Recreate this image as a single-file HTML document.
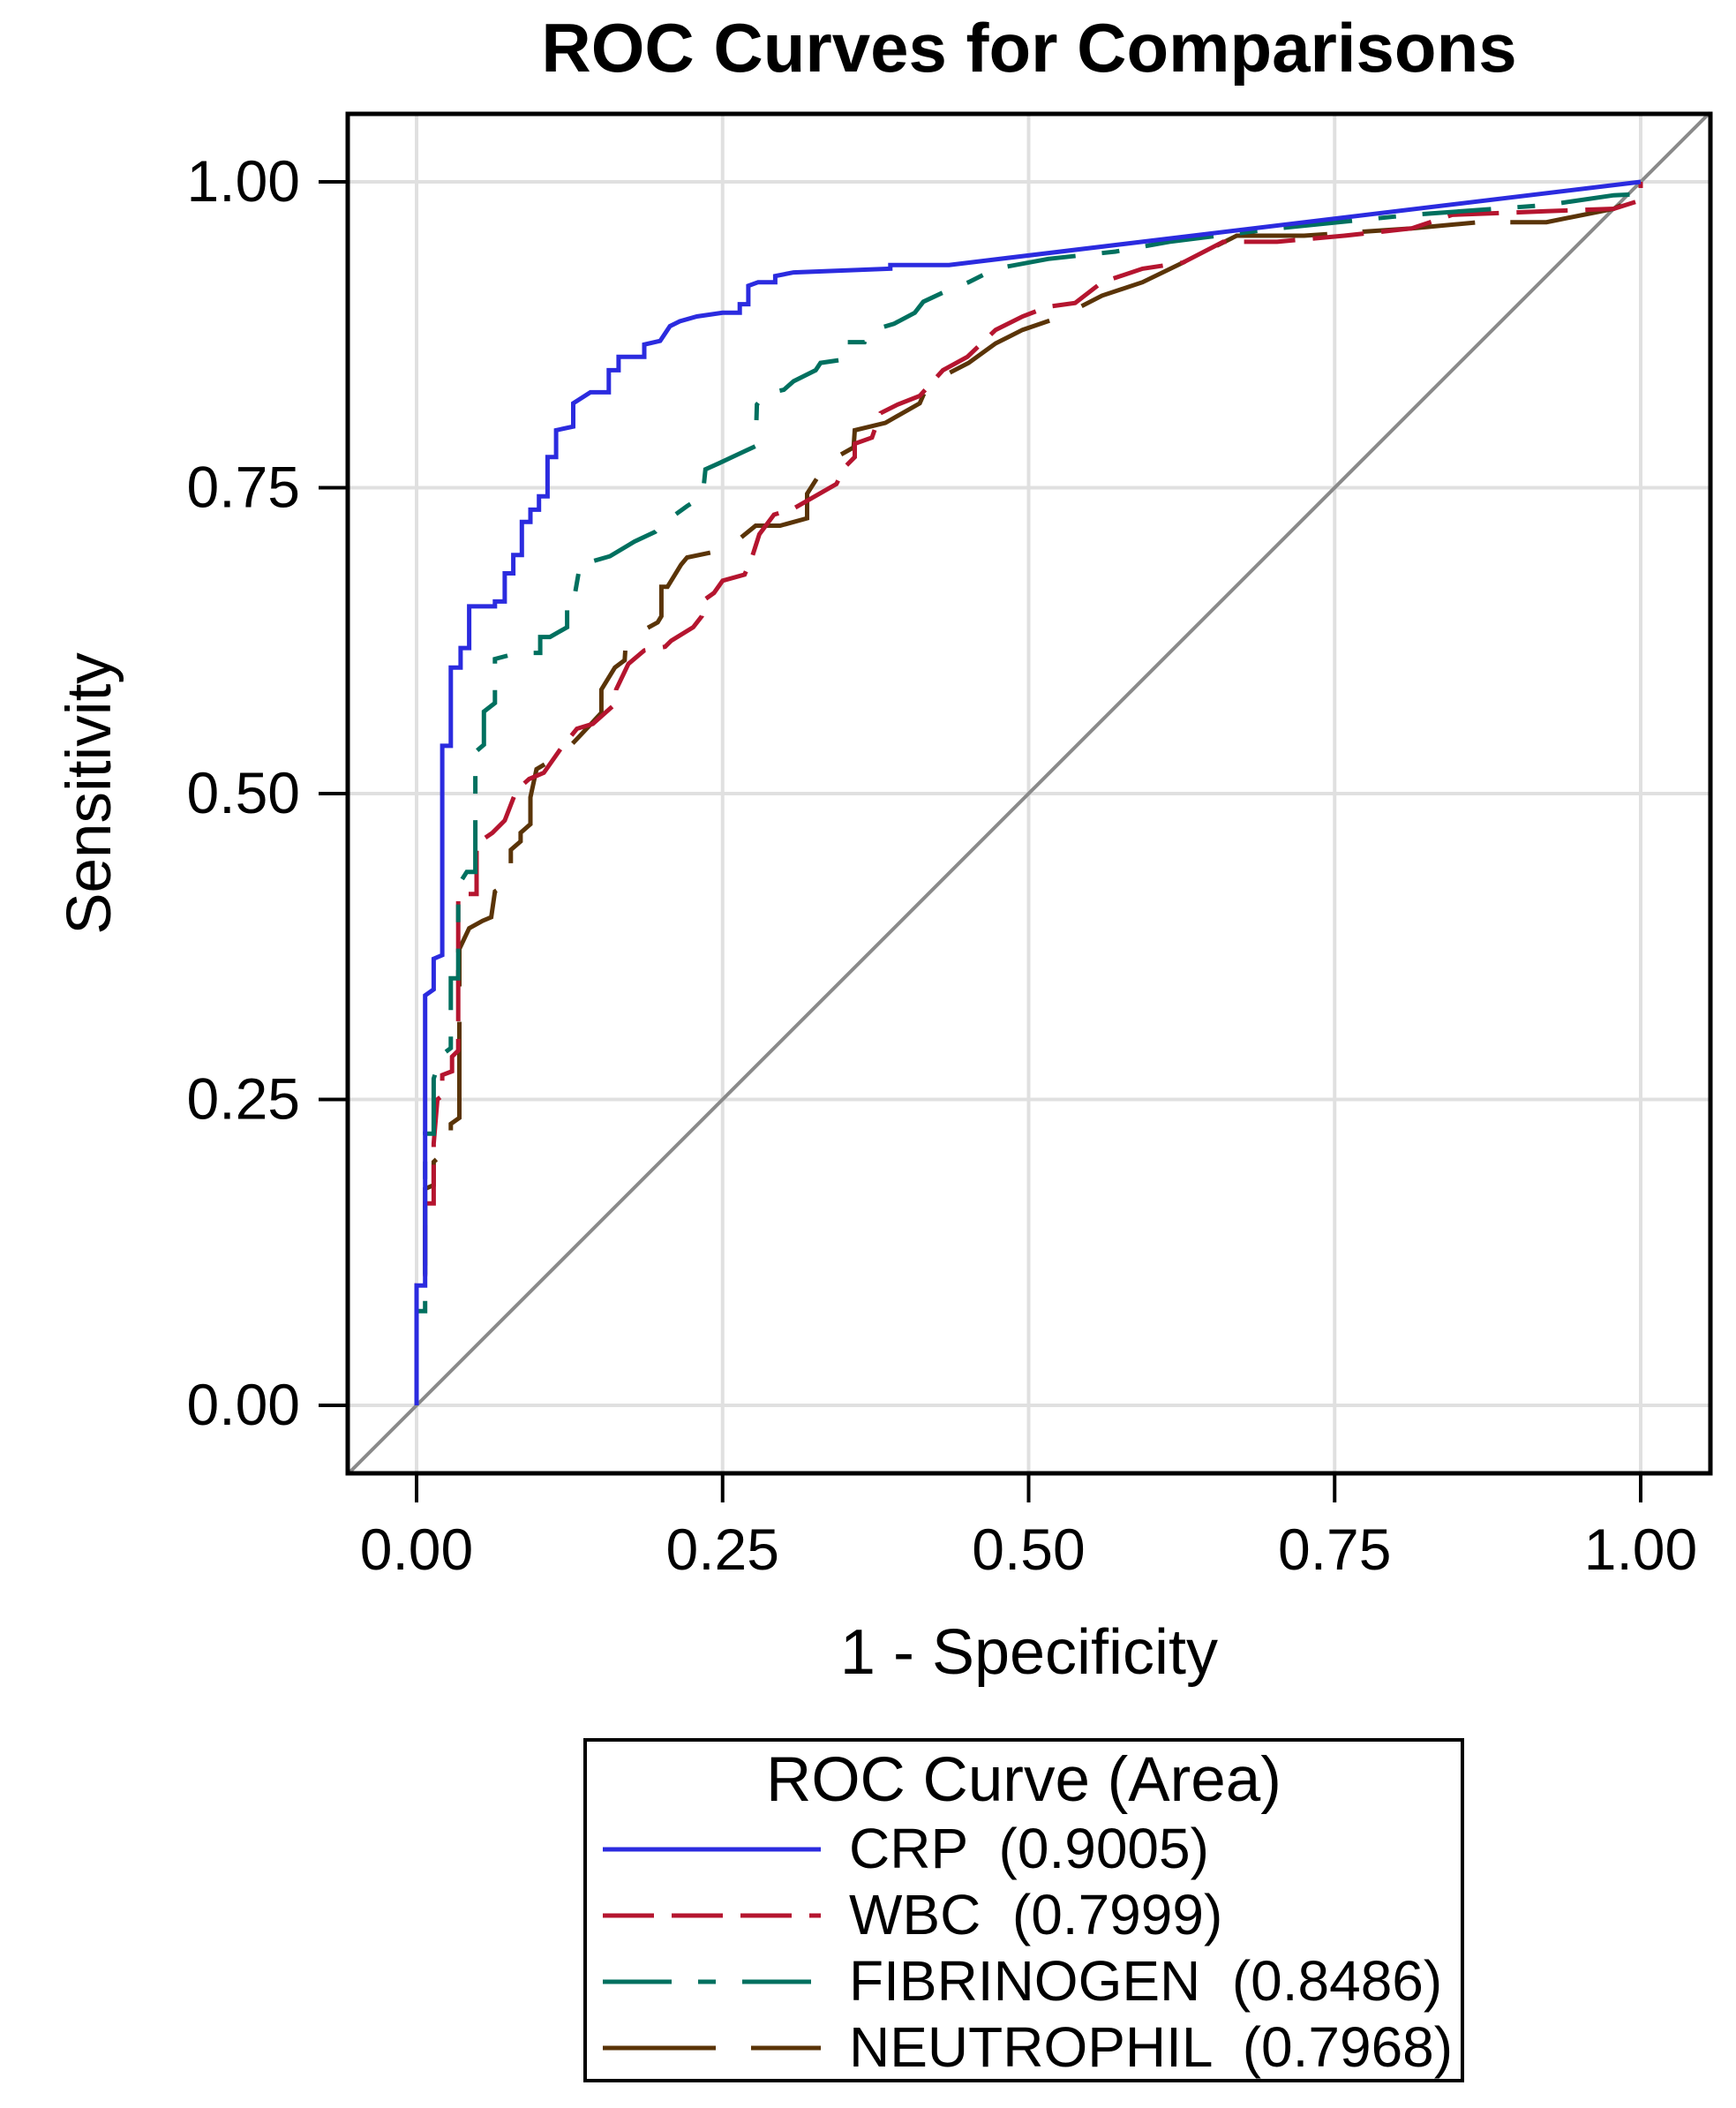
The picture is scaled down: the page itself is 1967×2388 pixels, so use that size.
<!DOCTYPE html>
<html><head><meta charset="utf-8"><style>
html,body{margin:0;padding:0;background:#fff;}
svg{display:block;font-family:"Liberation Sans",Arial,sans-serif;}
</style></head><body>
<svg id="chart" width="1967" height="2388" viewBox="0 0 1967 2388" xmlns="http://www.w3.org/2000/svg">
<rect width="1967" height="2388" fill="#fff"/>
<text x="1166" y="81" text-anchor="middle" font-size="78" font-weight="bold">ROC Curves for Comparisons</text>
<g id="grid"></g>
<g id="series"></g>
<rect x="394" y="129" width="1544" height="1540" fill="none" stroke="#000" stroke-width="5"/>
<g id="axes"></g>
<text x="1166" y="1896" text-anchor="middle" font-size="72">1 - Specificity</text>
<text transform="translate(125,899) rotate(-90)" text-anchor="middle" font-size="71">Sensitivity</text>
<g>
<rect x="663" y="1971" width="994" height="386" fill="#fff" stroke="#000" stroke-width="4"/>
<text x="1160" y="2040" text-anchor="middle" font-size="71">ROC Curve (Area)</text>
<g id="legendItems"></g>
</g>
</svg>
<script>
const NS="http://www.w3.org/2000/svg";
const xTicks=[0,0.25,0.5,0.75,1];
const yTicks=[0,0.25,0.5,0.75,1];
const tickLabels=["0.00","0.25","0.50","0.75","1.00"];
const seriesNames=["CRP","WBC","FIBRINOGEN","NEUTROPHIL"];
const seriesAreas=["0.9005","0.7999","0.8486","0.7968"];
const crpX=[0,0,.007,.007,.014,.014,.021,.021,.028,.028,.036,.036,.043,.043,.064,.064,.072,.072,.079,.079,.086,.086,.093,.093,.100,.100,.107,.107,.114,.114,.128,.128,.142,.157,.157,.165,.165,.186,.186,.199,.207,.215,.229,.250,.264,.264,.271,.271,.279,.293,.293,.308,.387,.387,.435,1];
const crpY=[0,.098,.098,.335,.340,.365,.368,.539,.539,.603,.603,.619,.619,.653,.653,.657,.657,.680,.680,.695,.695,.722,.722,.732,.732,.743,.743,.775,.775,.797,.800,.819,.828,.828,.846,.846,.857,.857,.867,.870,.882,.886,.890,.893,.893,.900,.900,.915,.918,.918,.923,.926,.929,.932,.932,1];
const wbcX=[0,0,.007,.007,.014,.014,.014,.017,.021,.021,.029,.029,.034,.034,.049,.049,.062,.072,.079,.082,.092,.104,.118,.131,.144,.162,.163,.173,.186,.203,.208,.226,.233,.236,.243,.250,.268,.274,.280,.292,.308,.343,.350,.358,.358,.372,.379,.393,.411,.43,.45,.473,.495,.516,.538,.56,.593,.626,.659,.703,.758,.813,.846,.923,.978,1,1];
const wbcY=[0,.098,.098,.165,.165,.199,.214,.25,.253,.270,.273,.285,.290,.418,.418,.459,.468,.478,.496,.503,.512,.517,.537,.553,.557,.573,.585,.606,.617,.620,.625,.636,.645,.659,.664,.674,.679,.693,.712,.728,.733,.753,.767,.775,.786,.791,.811,.818,.825,.846,.857,.879,.89,.898,.901,.918,.929,.934,.951,.951,.956,.962,.973,.976,.978,.985,1];
const fibX=[0,0,.007,.007,.014,.014,.020,.028,.028,.034,.034,.041,.048,.048,.055,.055,.064,.064,.083,.101,.101,.109,.123,.123,.129,.134,.144,.158,.173,.178,.195,.203,.221,.229,.234,.236,.247,.264,.277,.278,.285,.300,.308,.326,.330,.350,.350,.366,.370,.390,.407,.414,.429,.451,.473,.516,.571,.615,.703,.813,.923,.978,1,1];
const fibY=[0,.077,.077,.222,.222,.267,.286,.292,.349,.349,.425,.436,.436,.534,.540,.567,.574,.610,.615,.615,.628,.628,.636,.661,.661,.690,.690,.694,.703,.706,.714,.722,.735,.740,.746,.765,.770,.778,.784,.818,.827,.830,.837,.846,.852,.855,.869,.869,.878,.884,.893,.902,.909,.918,.929,.937,.943,.951,.962,.973,.981,.989,.99,1];
const neuX=[0,0,.007,.007,.014,.014,.028,.028,.035,.035,.043,.054,.061,.064,.077,.077,.085,.085,.093,.093,.098,.12,.137,.151,.151,.162,.170,.171,.179,.197,.200,.200,.205,.216,.221,.250,.261,.277,.297,.319,.319,.333,.343,.357,.358,.383,.411,.418,.451,.473,.495,.527,.56,.593,.626,.648,.67,.725,.813,.868,.923,.978,1,1];
const neuY=[0,.1,.1,.177,.18,.199,.212,.23,.235,.373,.39,.396,.399,.42,.428,.454,.461,.468,.475,.497,.52,.533,.551,.566,.585,.603,.609,.625,.630,.640,.645,.669,.669,.687,.693,.699,.706,.719,.719,.725,.745,.767,.775,.783,.797,.803,.819,.835,.852,.868,.879,.89,.907,.918,.934,.945,.956,.956,.962,.967,.967,.978,.989,1];

function sx(v){return 472+v*1387;}
function sy(v){return 1592-v*1386;}
function mk(tag,attrs){const e=document.createElementNS(NS,tag);for(const k in attrs)e.setAttribute(k,attrs[k]);return e;}

const grid=document.getElementById('grid');
xTicks.forEach(function(t){
  const l=mk('line',{x1:sx(t),x2:sx(t),y1:131,y2:1667,stroke:'#e0e0e0','stroke-width':4});
  
  
  grid.appendChild(l);
});
yTicks.forEach(function(t){
  const l=mk('line',{x1:396,x2:1936,y1:sy(t),y2:sy(t),stroke:'#e0e0e0','stroke-width':4});
  
  
  grid.appendChild(l);
});
const diag=mk('line',{x1:sx(-0.0563),y1:sy(-0.0563),x2:sx(1.0566),y2:sy(1.0566),stroke:'#8a8a8a','stroke-width':4});


grid.appendChild(diag);

const axes=document.getElementById('axes');
xTicks.forEach(function(t,i){
  const l=mk('line',{x1:sx(t),x2:sx(t),y1:1669,y2:1702,stroke:'#000','stroke-width':4});
  
  
  axes.appendChild(l);
  const tx=mk('text',{x:sx(t),y:1778,'text-anchor':'middle','font-size':66});
  
  
  tx.textContent=tickLabels[i];
  axes.appendChild(tx);
});
yTicks.forEach(function(t,i){
  const l=mk('line',{x1:361,x2:394,y1:sy(t),y2:sy(t),stroke:'#000','stroke-width':4});
  
  
  axes.appendChild(l);
  const tx=mk('text',{x:340,y:sy(t)+22,'text-anchor':'end','font-size':66});
  
  
  tx.textContent=tickLabels[i];
  axes.appendChild(tx);
});

const styles=[
  {c:'#2b2bdf',d:'none'},
  {c:'#b5152f',d:'58 20'},
  {c:'#00705f',d:'78 30 20 30'},
  {c:'#5a3408',d:'128 40'}
];
const seriesX=[crpX,wbcX,fibX,neuX];
const seriesY=[crpY,wbcY,fibY,neuY];
const sg=document.getElementById('series');
const order=[3,1,2,0];
order.forEach(function(i){
  const pts=seriesX[i].map(function(v,j){return sx(v).toFixed(1)+','+sy(seriesY[i][j]).toFixed(1);}).join(' ');
  const p=mk('polyline',{points:pts,fill:'none',stroke:styles[i].c,'stroke-width':5,'stroke-dasharray':styles[i].d,'stroke-linejoin':'miter'});
  
  
  sg.appendChild(p);
});

const lg=document.getElementById('legendItems');
seriesNames.forEach(function(n,i){
  const base=2116+i*75;
  const l=mk('line',{x1:683,x2:930,y1:base-21,y2:base-21,stroke:styles[i].c,'stroke-width':5,'stroke-dasharray':styles[i].d});
  
  
  lg.appendChild(l);
  const t=mk('text',{x:962,y:base,'font-size':64,'xml:space':'preserve'});
  
  
  t.style.whiteSpace='pre';
  t.textContent=n+'  ('+seriesAreas[i]+')';
  lg.appendChild(t);
});
</script>
</body></html>
